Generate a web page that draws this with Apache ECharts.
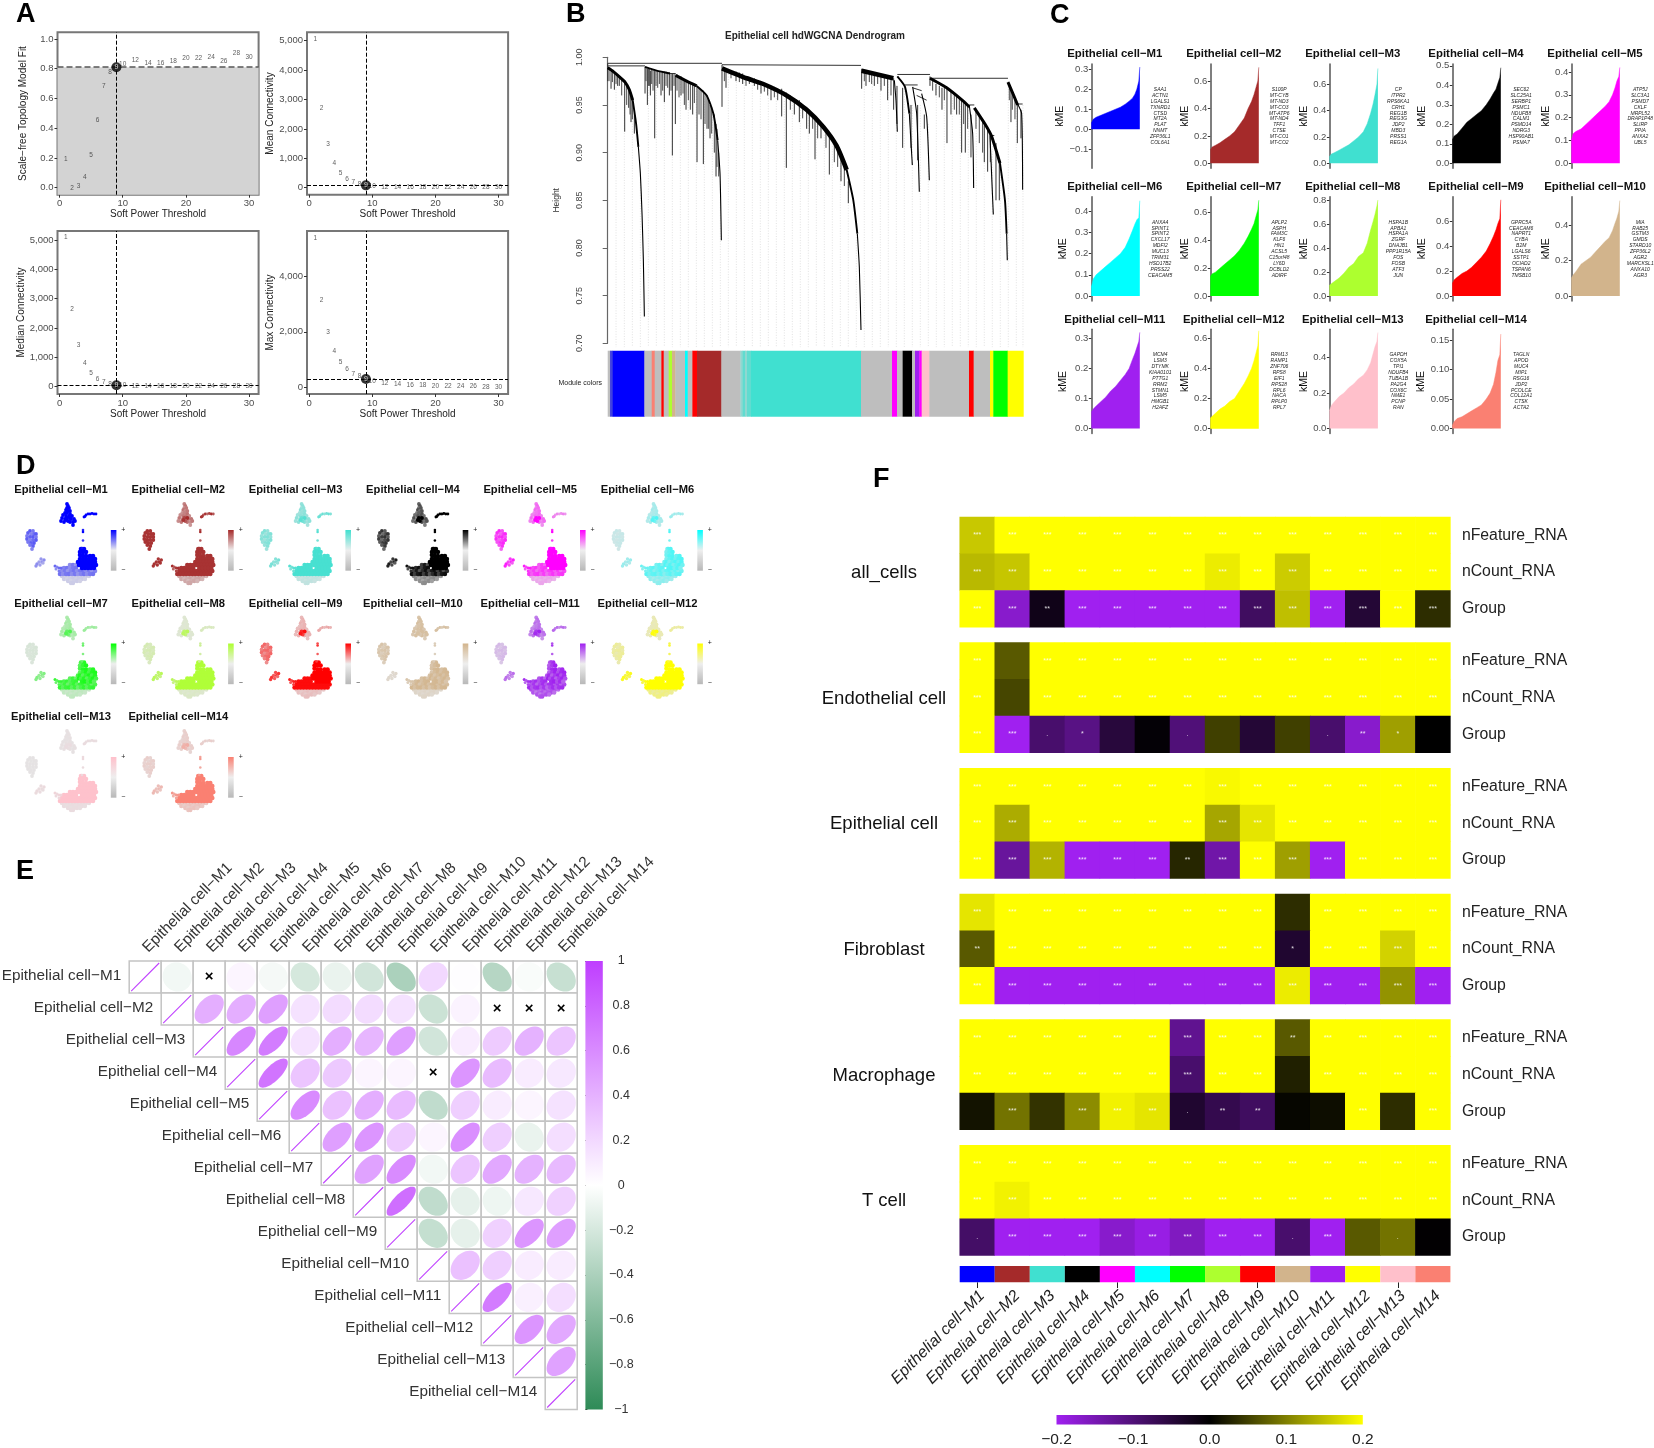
<!DOCTYPE html>
<html><head><meta charset="utf-8">
<style>html,body{margin:0;padding:0;background:#fff}#c{width:1654px;height:1448px}</style>
<script src="https://cdn.jsdelivr.net/npm/echarts@6/dist/echarts.min.js"></script>
</head><body><div id="c"></div>
<script>
// ---------- shared
const moduleNames=['Epithelial cell−M1','Epithelial cell−M2','Epithelial cell−M3','Epithelial cell−M4','Epithelial cell−M5','Epithelial cell−M6','Epithelial cell−M7','Epithelial cell−M8','Epithelial cell−M9','Epithelial cell−M10','Epithelial cell−M11','Epithelial cell−M12','Epithelial cell−M13','Epithelial cell−M14'];
const moduleColors=['#0000FF','#A52A2A','#40E0D0','#000000','#FF00FF','#00FFFF','#00FF00','#ADFF2F','#FF0000','#D2B48C','#A020F0','#FFFF00','#FFC0CB','#FA8072'];
// ---------- A
const powers=[1,2,3,4,5,6,7,8,9,10,12,14,16,18,20,22,24,26,28,30];
const scaleFreeFit=[0.195,0,0.01,0.07,0.22,0.455,0.68,0.775,0.81,0.83,0.855,0.84,0.84,0.85,0.87,0.87,0.88,0.85,0.905,0.875];
const meanConn=[5050,2700,1480,830,490,290,180,120,80,60,25,15,5,5,0,0,0,0,0,0];
const medianConn=[5100,2650,1430,800,450,250,140,80,50,35,0,0,0,0,0,0,0,0,0,0];
const maxConn=[5400,3150,1970,1300,900,660,480,380,290,210,140,100,70,60,40,30,20,20,5,5];
const softPower=9;
const cutFit=0.81, cutMean=80, cutMedian=50, cutMax=290;
// ---------- B
const dendroSpinesBand=[
 [[343,.9885],[417,.978],[467,.972],[537,.960],[597,.945],[647,.927],[687,.907],[717,.882]],
 [[762,.986],[857,.978]]
];
const dendroSpinesThick=[
 [[0,.989],[17,.985],[37,.979],[52,.974],[65,.966],[75,.955]],
 [[204,.981],[237,.975],[267,.970]],
 [[967,.978],[1017,.968],[1067,.954],[1085,.948]],
 [[1100,.947],[1132,.930],[1152,.917],[1177,.889]],
 [[1201,.974],[1217,.961],[1230,.950]]
];
const dendroSpinesMedium=[
 [[75,.955],[85,.931],[92,.906]],
 [[112,.990],[147,.986],[187,.983]],
 [[267,.970],[297,.960],[317,.941],[330,.913]],
 [[717,.882],[737,.850],[749,.815]],
 [[869,.980],[892,.969],[905,.941]],
 [[1177,.889],[1192,.850],[1197,.815]]
];
const dendroSpinesThin=[
 [[92,.906],[98,.878],[103,.836],[107,.787],[110,.728]],
 [[330,.913],[337,.878],[341,.808]],
 [[749,.815],[755,.780],[760,.714]],
 [[860,.976],[865,.955],[869,.922]],
 [[905,.941],[914,.887]],
 [[915,.969],[927,.941],[935,.859]],
 [[942,.962],[957,.938],[965,.871]],
 [[1085,.949],[1095,.920],[1098,.863]],
 [[1147,.918],[1157,.835]],
 [[1197,.815],[1199,.787]],
 [[1230,.951],[1242,.941],[1245,.861]]
];
const dendroMerges=[
 [0,.9937,343,.9937],[0,.991,112,.991],[187,.983,204,.983],[343,.9922,760,.9915],[869,.982,967,.982],[967,.978,1201,.978],[892,.971,930,.971],[915,.968,942,.965],[927,.96,957,.955],[1085,.950,1100,.950],[1230,.951,1245,.951],[1147,.918,1160,.918]
];
const dendroSpikes=[
 [0,.9937,.975],[10,.985,.967],[20,.985,.966],[30,.982,.97],[51,.976,.922],[63,.968,.947],[70,.96,.932],[80,.945,.92],
 [112,.99,.962],[119,.988,.95],[128,.986,.96],[141,.986,.915],[160,.985,.96],[170,.985,.953],[185,.984,.96],[194,.983,.897],[203,.982,.93],[220,.98,.96],[235,.975,.945],[255,.972,.94],[268,.97,.89],[287,.965,.888],[298,.96,.925],[307,.95,.915],[325,.93,.875],
 [343,.9922,.948],[355,.988,.968],[385,.985,.975],[405,.983,.972],[440,.978,.97],[460,.975,.962],[490,.97,.955],[522,.967,.938],[536,.963,.884],[560,.956,.94],[575,.955,.932],[597,.948,.925],[605,.945,.92],[622,.937,.893],[640,.93,.915],[665,.92,.877],[700,.895,.87],[722,.87,.847],
 [762,.988,.967],[775,.985,.97],[800,.982,.97],[820,.98,.965],[840,.98,.955],[858,.978,.945],[868,.97,.93],[885,.968,.905],[910,.95,.905],[930,.95,.892],[950,.94,.925],
 [967,.98,.97],[985,.972,.96],[1003,.968,.945],[1018,.968,.91],[1030,.965,.94],[1047,.96,.94],[1062,.955,.90],[1073,.95,.9],[1090,.94,.895],[1130,.93,.89],[1140,.925,.88],[1165,.91,.85],[1175,.89,.85],
 [1210,.968,.932],[1229,.951,.91],[1240,.945,.915]
];
const dendroHairs=[
 [4,.988,.975],[14,.986,.974],[25,.982,.972],[35,.98,.97],[42,.978,.96],[57,.972,.95],[67,.965,.94],[74,.955,.935],
 [115,.99,.975],[122,.989,.97],[125,.988,.97],[132,.987,.972],[136,.987,.965],[145,.986,.97],[150,.986,.968],[155,.985,.972],[165,.985,.965],[175,.985,.97],[180,.984,.968],[190,.983,.965],[199,.983,.97],[208,.982,.965],[214,.98,.958],[226,.978,.962],[230,.976,.95],[242,.974,.955],[248,.973,.945],[260,.972,.952],[274,.968,.94],[280,.966,.935],[292,.962,.93],[303,.955,.925],[312,.948,.92],[320,.94,.9],[328,.925,.885],[333,.9,.875],
 [350,.988,.975],[370,.986,.978],[395,.984,.974],[415,.98,.97],[425,.979,.972],[450,.976,.966],[470,.973,.964],[480,.971,.96],[500,.969,.958],[510,.967,.955],[548,.96,.945],[585,.95,.936],[615,.94,.925],[630,.934,.915],[655,.924,.905],[680,.91,.89],[690,.905,.885],[710,.888,.865],
 [770,.986,.975],[785,.984,.974],[792,.984,.972],[810,.982,.972],[830,.98,.97],[850,.979,.96],
 [975,.976,.965],[995,.97,.958],[1010,.968,.955],[1040,.962,.945],[1055,.957,.94],[1068,.952,.93],[1080,.948,.925],[1105,.946,.925],[1115,.94,.91],[1125,.935,.9],[1148,.92,.89],
 [1205,.972,.955],[1214,.965,.945],[1222,.958,.935]
];
const dendroGuides=[[25,.98],[50,.975],[74,.955],[98,.88],[122,.985],[146,.985],[170,.985],[194,.983],[218,.98],[242,.975],[266,.97],[290,.962],[314,.943],[338,.87],[362,.988],[386,.985],[410,.982],[434,.979],[458,.976],[482,.971],[506,.968],[530,.965],[554,.958],[578,.953],[602,.945],[626,.936],[650,.927],[674,.915],[698,.9],[722,.875],[746,.825],[770,.986],[794,.983],[818,.981],[842,.98],[866,.97],[890,.97],[914,.95],[938,.95],[962,.93],[986,.975],[1010,.972],[1034,.963],[1058,.957],[1082,.95],[1106,.945],[1130,.933],[1154,.915],[1178,.888],[1202,.975],[1226,.955],[1246,.95]];
const dendroGuideBottom=.696;
const moduleSegments=[[0,7,'#BEBEBE'],[7,15,'#4040E0'],[15,110,'#0000FF'],[110,132,'#BEBEBE'],[132,141,'#FA8072'],[141,161,'#BEBEBE'],[161,168,'#FF0000'],[168,183,'#BEBEBE'],[183,193,'#ADFF2F'],[193,203,'#D2B48C'],[203,232,'#BEBEBE'],[232,240,'#00FFFF'],[240,254,'#BEBEBE'],[254,268,'#FF0000'],[268,341,'#A52A2A'],[341,398,'#BEBEBE'],[398,405,'#8FD8D0'],[405,412,'#60DCD0'],[412,418,'#8FD8D0'],[418,430,'#60DCD0'],[430,760,'#40E0D0'],[760,853,'#BEBEBE'],[853,868,'#FF00FF'],[868,885,'#BEBEBE'],[885,913,'#000000'],[913,922,'#BEBEBE'],[922,935,'#A020F0'],[935,942,'#FF00FF'],[942,965,'#FFC0CB'],[965,1084,'#BEBEBE'],[1084,1098,'#FF0000'],[1098,1147,'#BEBEBE'],[1147,1157,'#FFFF00'],[1157,1200,'#00FF00'],[1200,1247,'#FFFF00']];
// ---------- C
const kmeRanks=[0,.04,.1,.2,.3,.4,.5,.6,.7,.78,.85,.9,.94,.98,1];
const kmeM1=[.03,.05,.06,.07,.08,.09,.1,.11,.125,.14,.155,.175,.2,.24,.31];
const kmeM2=[.1,.12,.13,.15,.175,.2,.23,.28,.33,.4,.45,.5,.55,.6,.7];
const kmeM3=[.05,.07,.08,.1,.12,.14,.17,.2,.24,.3,.38,.45,.52,.6,.72];
const kmeM4=[.12,.14,.15,.18,.21,.23,.25,.27,.3,.33,.36,.38,.41,.44,.49];
const kmeM5=[.1,.13,.14,.15,.17,.19,.21,.23,.25,.27,.3,.33,.36,.38,.42];
const kmeM6=[.04,.08,.1,.12,.14,.16,.18,.2,.23,.27,.31,.34,.36,.37,.45];
const kmeM7=[.14,.16,.17,.2,.23,.26,.29,.33,.38,.43,.48,.52,.57,.62,.69];
const kmeM8=[.09,.1,.12,.15,.19,.24,.27,.33,.36,.44,.55,.62,.68,.75,.8];
const kmeM9=[.1,.13,.15,.18,.2,.23,.27,.31,.36,.42,.48,.53,.58,.62,.77];
const kmeM10=[.1,.12,.14,.18,.2,.22,.25,.28,.31,.33,.37,.41,.44,.48,.54];
const kmeM11=[.055,.065,.075,.09,.105,.125,.14,.16,.18,.2,.23,.25,.27,.29,.32];
const kmeM12=[.07,.08,.1,.13,.15,.18,.2,.25,.3,.35,.4,.45,.5,.55,.65];
const kmeM13=[.1,.13,.15,.18,.2,.23,.25,.28,.3,.33,.37,.42,.46,.49,.54];
const kmeM14=[.005,.012,.017,.02,.025,.03,.035,.04,.05,.06,.075,.095,.115,.125,.16];
const kmeAll=[kmeM1,kmeM2,kmeM3,kmeM4,kmeM5,kmeM6,kmeM7,kmeM8,kmeM9,kmeM10,kmeM11,kmeM12,kmeM13,kmeM14];
const kmeTicks=[[-.1,0,.1,.2,.3],[0,.2,.4,.6],[0,.2,.4,.6],[0,.1,.2,.3,.4,.5],[0,.1,.2,.3,.4],[0,.1,.2,.3,.4],[0,.2,.4,.6],[0,.2,.4,.6,.8],[0,.2,.4,.6],[0,.2,.4],[0,.1,.2,.3],[0,.2,.4,.6],[0,.2,.4],[0,.05,.1,.15]];
const kmeRange=[[-.194,.325],[-.036,.724],[-.038,.754],[-.0256,.509],[-.022,.435],[-.0236,.469],[-.036,.715],[-.042,.828],[-.04,.795],[-.028,.562],[-.0167,.33],[-.033,.66],[-.028,.558],[-.0085,.168]];
const geneLists=[
['SAA1','ACTN1','LGALS1','TXNRD1','CTSD','MT2A','PLAT','NNMT','ZFP36L1','COL6A1'],
['S100P','MT-CYB','MT-ND3','MT-CO3','MT-ATP6','MT-ND4','TFF1','CTSE','MT-CO1','MT-CO2'],
['CP','ITPR2','RPS6KA1','CRH1','REG1B','REG3G','JDP2','MBD3','PRSS1','REG1A'],
['SEC62','SLC25A1','SERBP1','PSMC1','NDUFB8','CALM1','PSMD14','NDRG3','HSP90AB1','PSMA7'],
['ATP5J','SLC3A1','PSMD7','CKLF','MRPL52','DRAP1P48','SLIRP','PPIA','ANXA2','UBL5'],
['ANXA4','SPINT1','SPINT2','CXCL17','MDFI2','MUC13','TRIM31','HSD17B2','PRSS22','CEACAM5'],
['APLP2','ASPH','FAM3C','KLF6','HN1','ACSL5','C15orf48','LY6D','DCBLD2','ADIRF'],
['HSPA1B','APBA1','HSPA1A','ZGRF','DNAJB1','PPP1R15A','FOS','FOSB','ATF3','JUN'],
['GPRC5A','CEACAM6','NAPRT1','CYBA','B2M','LGALS6','SSTP1','OCIAD2','TSPAN6','TMSB10'],
['MIA','RAB25','GSTM3','GMDS','STARD10','ZFP36L2','AGR2','MARCKSL1','ANXA10','AGR3'],
['MCM4','LSM3','DTYMK','KIAA0101','PTTG1','RRM2','STMN1','LSM5','HMGB1','H2AFZ'],
['RRM13','RAMP1','ZNF706','RPS8','EIF1','RPS28','RPL6','NACA','RPLP0','RPL7'],
['GAPDH','COX5A','TPI1','NDUFB4','TUBA1B','PA2G4','COX6C','NME1','PCNP','RAN'],
['TAGLN','APOD','MUC4','MIP1','RSG16','JDP2','PCOLCE','COL12A1','CTSK','ACTA2']];
// ---------- D  (cell positions read from the embedding, grouped by region)
const umapTop=[[67,64],[68,66],[67,68],[69,68],[66,70],[68,71],[70,71],[65,73],[67,73],[70,74],[63,75],[66,76],[69,76],[72,76],[62,78],[65,79],[71,79],[74,79],[61,81],[64,82],[70,82],[73,82],[75,81],[73,85]];
const umapCore=[[67,78],[70,78],[68,81],[66,80]];
const umapRight=[[84,77],[86,75],[88,74],[90,74],[92,73.5],[94,74],[96,74],[85,76.5]];
const umapLeft=[[30,91],[33,91],[28,93],[31,94],[34,94],[36,94],[27,96],[30,97],[33,97],[36,97],[27,99],[30,100],[33,100],[36,100],[28,102],[31,103],[34,103],[30,105],[33,106],[32,109]];
const umapSmall=[[41,119],[44,120],[39,122],[42,122],[37,124],[40,125],[36,126],[43,123]];
const umapDots=[[83,90],[83,92],[83,100.5],[82,108]];
const umapArm=[[55,126],[57,127],[59,128],[56,129],[59,131],[61,128]];
const umapLow=[[62,136],[65,136],[68,136],[71,136],[74,136],[77,136],[80,136],[83,136],[86,136],[89,136],[64,139],[67,139],[70,139],[73,139],[76,139],[79,139],[82,139],[85,139],[68,141],[71,141],[74,141],[77,141],[80,141],[71,143],[73,143]];
const umapMid=[[70,125],[73,125],[76,125],[64,128],[67,128],[70,128],[73,128],[76,128],[62,131],[65,131],[68,131],[71,131],[74,131],[77,131],[80,131],[83,131],[86,131],[89,131],[92,131],[95,131],[60,134],[63,134],[66,134],[69,134],[72,134],[75,134],[78,134],[81,134],[84,134],[87,134],[90,134],[93,134]];
const umapHigh=[[81,109],[84,109],[80,112],[83,112],[86,112],[80,115],[83,116],[86,116],[90,116],[93,116],[80,119],[83,119],[86,119],[89,119],[92,119],[95,119],[78,122],[80,122],[83,122],[86,122],[89,122],[92,122],[95,122],[79,125],[81,125],[84,125],[87,125],[90,125],[93,125],[96,125],[82,128],[85,128],[88,128],[91,128],[94,128]];
const umapRegions=[umapLow,umapMid,umapHigh,umapTop,umapCore,umapRight,umapLeft,umapSmall,umapDots,umapArm];
const umapSizes=[4.4,4.6,4.6,3.8,4,2.8,3.8,3.4,2.6,3];
// intensity per region [low, mid, high, top, core, right, left, small, dots, arm]
const umapM1=[.1,.45,1,1,1,1,.55,.35,.9,.5];
const umapM2=[.3,.95,.95,.55,.9,.9,.95,.95,.9,.9];
const umapM3=[.2,.95,.95,.5,.8,.7,.55,.6,.8,.8];
const umapM4=[.35,.85,1,.6,1,1,.7,.8,1,.85];
const umapM5=[.25,.7,1,.5,1,.4,.75,.8,.9,.8];
const umapM6=[.35,.55,.6,.25,.6,.3,.12,.3,.6,.5];
const umapM7=[.15,.7,.8,.25,.6,.3,.05,.4,.5,.7];
const umapM8=[.15,.95,.95,.1,.7,.2,.25,.7,.4,.7];
const umapM9=[.15,.95,1,.2,.85,.25,.5,.7,.7,.8];
const umapM10=[.3,.85,.85,.7,.7,.7,.6,.25,.5,.6];
const umapM11=[.7,.85,.9,.55,.9,.6,.2,.55,.8,.85];
const umapM12=[.4,1,1,.2,.9,.3,.3,.8,.7,.9];
const umapM13=[.2,.95,.95,.1,.2,.2,.05,.25,.3,.4];
const umapM14=[.3,1,1,.2,.5,.2,.2,.4,.7,.7];
const umapAll=[umapM1,umapM2,umapM3,umapM4,umapM5,umapM6,umapM7,umapM8,umapM9,umapM10,umapM11,umapM12,umapM13,umapM14];
const umapPatch=[1.1,.85,1.05,.75,.95,1.1,.85,1.05];
// ---------- E  (upper triangle; null = crossed out)
const corrM1=[-.06,null,.05,-.05,-.2,-.1,-.22,-.4,.2,.01,-.35,-.03,-.27];
const corrM2=[.42,.42,.5,.15,.18,.18,.15,-.25,.06,null,null,null];
const corrM3=[.62,.68,.15,.42,.38,.5,-.22,.1,.27,.4,.3];
const corrM4=[.72,.3,.28,.05,.05,null,.55,.35,.1,.12];
const corrM5=[.6,.32,.42,.35,-.3,.25,.1,.05,.15];
const corrM6=[.5,.55,.27,.05,.58,.25,-.1,.17];
const corrM7=[.48,.6,-.06,.3,.45,.4,.36];
const corrM8=[.75,-.3,-.12,-.08,.12,.24];
const corrM9=[-.28,-.12,.24,.55,.5];
const corrM10=[.32,.25,.1,.1];
const corrM11=[.68,.08,.17];
const corrM12=[.55,.45];
const corrM13=[.48];
const corrRows=[corrM1,corrM2,corrM3,corrM4,corrM5,corrM6,corrM7,corrM8,corrM9,corrM10,corrM11,corrM12,corrM13,[]];
const corrTicks=[-1,-.8,-.6,-.4,-.2,0,.2,.4,.6,.8,1];
// ---------- F
const traitNames=['nFeature_RNA','nCount_RNA','Group'];
const heatGroups=['all_cells','Endothelial cell','Epithelial cell','Fibroblast','Macrophage','T cell'];
const S3='***',S2='**',S1='*',SD='.',S0='';
const heatAllCells=[[.157,.2,.2,.2,.2,.2,.2,.2,.2,.2,.2,.2,.2,.2],[.145,.155,.2,.2,.2,.2,.2,.185,.2,.16,.2,.2,.2,.2],[.2,-.17,-.02,-.2,-.2,-.2,-.2,-.2,-.08,.15,-.2,-.045,.2,.035]];
const starAllCells=[[S3,S3,S3,S3,S3,S3,S3,S3,S3,S3,S3,S3,S3,S3],[S3,S3,S3,S3,S3,S3,S3,S3,S3,S3,S3,S3,S3,S3],[S3,S3,S2,S3,S3,S3,S3,S3,S3,S3,S3,S3,S3,S3]];
const heatEndothelial=[[.2,.07,.2,.2,.2,.2,.2,.2,.2,.2,.2,.2,.2,.2],[.2,.055,.2,.2,.2,.2,.2,.2,.2,.2,.2,.2,.2,.2],[.2,-.2,-.09,-.11,-.05,-.005,-.1,.05,-.045,.05,-.09,-.17,.125,0]];
const starEndothelial=[[S3,S0,S3,S3,S3,S3,S3,S3,S3,S3,S3,S3,S3,S3],[S3,S0,S3,S3,S3,S3,S3,S3,S3,S3,S3,S3,S3,S3],[S3,S3,SD,S1,S0,S0,SD,S0,S0,S0,SD,S2,S1,S0]];
const heatEpithelial=[[.2,.2,.2,.2,.2,.2,.2,.195,.2,.2,.2,.2,.2,.2],[.2,.135,.2,.2,.2,.2,.2,.13,.18,.2,.2,.2,.2,.2],[.2,-.13,.14,-.2,-.2,-.2,.03,-.14,.2,.125,-.2,.2,.2,.2]];
const starEpithelial=[[S3,S3,S3,S3,S3,S3,S3,S3,S3,S3,S3,S3,S3,S3],[S3,S3,S3,S3,S3,S3,S3,S3,S3,S3,S3,S3,S3,S3],[S3,S3,S3,S3,S3,S3,S2,S3,S3,S3,S3,S3,S3,S3]];
const heatFibroblast=[[.18,.2,.2,.2,.2,.2,.2,.2,.2,.035,.2,.2,.2,.2],[.07,.2,.2,.2,.2,.2,.2,.2,.2,-.04,.2,.2,.165,.2],[.2,-.2,-.2,-.2,-.2,-.2,-.2,-.2,-.2,.185,-.2,-.2,.115,-.2]];
const starFibroblast=[[S3,S3,S3,S3,S3,S3,S3,S3,S3,S0,S3,S3,S3,S3],[S2,S3,S3,S3,S3,S3,S3,S3,S3,S1,S3,S3,S3,S3],[S3,S3,S3,S3,S3,S3,S3,S3,S3,S3,S3,S3,S3,S3]];
const heatMacrophage=[[.2,.2,.2,.2,.2,.2,-.12,.2,.2,.07,.2,.2,.2,.2],[.2,.2,.2,.2,.2,.2,-.09,.2,.2,.025,.2,.2,.2,.2],[.015,.09,.04,.11,.19,.18,-.04,-.065,-.08,.005,.01,.2,.035,.2]];
const starMacrophage=[[S3,S3,S3,S3,S3,S3,S3,S3,S3,S2,S3,S3,S3,S3],[S3,S3,S3,S3,S3,S3,S3,S3,S3,S0,S3,S3,S3,S3],[S0,S3,S0,S3,S3,S3,SD,S2,S2,S0,S0,S3,S0,S3]];
const heatTCell=[[.2,.2,.2,.2,.2,.2,.2,.2,.2,.2,.2,.2,.2,.2],[.2,.19,.2,.2,.2,.2,.2,.2,.2,.2,.2,.2,.2,.2],[-.085,-.2,-.2,-.2,-.17,-.19,-.16,-.2,-.2,-.09,-.2,.07,.09,-.002]];
const starTCell=[[S3,S3,S3,S3,S3,S3,S3,S3,S3,S3,S3,S3,S3,S3],[S3,S3,S3,S3,S3,S3,S3,S3,S3,S3,S3,S3,S3,S3],[SD,S3,S3,S3,S3,S3,S3,S3,S3,SD,S3,S0,SD,S0]];
const heatValues=[heatAllCells,heatEndothelial,heatEpithelial,heatFibroblast,heatMacrophage,heatTCell];
const heatStars=[starAllCells,starEndothelial,starEpithelial,starFibroblast,starMacrophage,starTCell];
const heatColorTicks=[-.2,-.1,0,.1,.2];

// ---------- builders
const FF='"Liberation Sans",Arial,sans-serif';
const grids=[],xAxes=[],yAxes=[],series=[],graphics=[];
function addGrid(r,x,y,extra){const i=grids.length;grids.push(Object.assign({left:r[0],top:r[1],width:r[2],height:r[3]},extra||{}));xAxes.push(Object.assign({gridIndex:i},x));yAxes.push(Object.assign({gridIndex:i},y));return i;}
function text(t,x,y,font,fill,align,rot){graphics.push({type:'text',x,y,rotation:rot||0,silent:true,style:{text:t,font:font+' '+FF,fill:fill||'#000',textAlign:align||'center',textVerticalAlign:'middle'}});}
const hidden={show:false};
function hexToRgb(h){return [parseInt(h.slice(1,3),16),parseInt(h.slice(3,5),16),parseInt(h.slice(5,7),16)];}
function mix(a,b,t){const A=hexToRgb(a),B=hexToRgb(b);return 'rgb('+A.map((v,i)=>Math.round(v+(B[i]-v)*t)).join(',')+')';}
const minus=s=>String(s).replace('-','−');

// ---------- panel letters
[['A',16,15],['B',566,15],['C',1050,16],['D',16,467],['E',16,872],['F',873,480]].forEach(l=>text(l[0],l[1],l[2],'bold 27px','#000','left'));

// ---------- A
const thresholdAxisX=()=>({type:'value',min:-.32,max:31.5,name:'Soft Power Threshold',nameLocation:'middle',nameGap:14.5,nameTextStyle:{fontSize:10,color:'#222',fontFamily:FF},axisLine:{show:false,onZero:false},splitLine:hidden,axisTick:{show:true,length:3,lineStyle:{color:'#333'},customValues:[0,10,20,30]},axisLabel:{fontSize:9.5,color:'#4d4d4d',margin:4,fontFamily:FF,customValues:[0,10,20,30]}});
function panelA(rect,yName,yMin,yMax,ticks,fmt,vals,cut,shade,cutColor){
 const g=addGrid(rect,thresholdAxisX(),{type:'value',min:yMin,max:yMax,name:yName,nameLocation:'middle',nameGap:29.5,nameTextStyle:{fontSize:10,color:'#222',fontFamily:FF},axisLine:{show:false,onZero:false},splitLine:hidden,axisTick:{show:true,length:3,lineStyle:{color:'#333'},customValues:ticks},axisLabel:{fontSize:9.5,color:'#4d4d4d',margin:4,fontFamily:FF,customValues:ticks,formatter:fmt}},{show:true,borderColor:'#777777',borderWidth:2,backgroundColor:'#fff'});
 const pts=powers.map((p,i)=>[p,vals[i],p]).filter(d=>d[2]!==softPower);
 series.push({type:'scatter',xAxisIndex:g,yAxisIndex:g,silent:true,symbolSize:1,itemStyle:{color:'rgba(0,0,0,0)'},data:pts,z:4,
   label:{show:true,position:'inside',fontSize:6.5,color:'#333',fontFamily:FF,formatter:p=>p.data[2]},
   markLine:{silent:true,symbol:'none',label:hidden,animation:false,lineStyle:{color:'#000',type:'dashed',width:1},data:[{xAxis:softPower},{yAxis:cut,lineStyle:{color:cutColor||'#000',type:'dashed',width:cutColor?1.5:1}}]},
   markArea:shade?{silent:true,itemStyle:{color:'#D3D3D3'},data:[[{xAxis:-.32,yAxis:yMin},{xAxis:31.5,yAxis:cut}]]}:undefined});
 const idx=powers.indexOf(softPower);
 series.push({type:'scatter',xAxisIndex:g,yAxisIndex:g,silent:true,symbolSize:10,itemStyle:{color:'#000'},z:5,data:[[softPower,vals[idx]]],label:{show:true,position:'inside',fontSize:7,color:'#fff',fontFamily:FF,formatter:String(softPower)}});
}
const fmt1=v=>v.toFixed(1);
const fmtK=v=>v.toLocaleString('en-US');
panelA([57.5,32.3,201.1,162.4],'Scale−free Topology Model Fit',-.047,1.045,[0,.2,.4,.6,.8,1],fmt1,scaleFreeFit,cutFit,true,'#555');
panelA([307,32.3,201.1,162.4],'Mean Connectivity',-238,5286,[0,1000,2000,3000,4000,5000],fmtK,meanConn,cutMean);
panelA([57.5,231,201.1,163],'Median Connectivity',-249,5307,[0,1000,2000,3000,4000,5000],fmtK,medianConn,cutMedian);
panelA([307,231,201.1,163],'Max Connectivity',-254,5657,[0,2000,4000],fmtK,maxConn,cutMax);

// ---------- B
text('Epithelial cell hdWGCNA Dendrogram',815,36.7,'bold 10px','#222');
text('Module colors',602,383,'7px','#222','right');
const gB=addGrid([607.7,57.3,415.6,286],{type:'value',min:0,max:1247,show:false},{type:'value',min:.7,max:1,interval:.05,offset:16,name:'Height',nameLocation:'middle',nameGap:31,nameTextStyle:{fontSize:8.5,color:'#333',fontFamily:FF},axisLine:{show:true,lineStyle:{color:'#666',width:1.2}},axisTick:{show:true,length:5,lineStyle:{color:'#666'}},splitLine:hidden,axisLabel:{rotate:90,fontSize:9,color:'#444',margin:8,fontFamily:FF,formatter:v=>v.toFixed(2)}});
series.push({type:'custom',xAxisIndex:gB,yAxisIndex:gB,silent:true,clip:false,z:1,data:dendroGuides,encode:{x:0,y:1},
 renderItem:(p,api)=>{const a=api.coord([api.value(0),api.value(1)]),b=api.coord([api.value(0),dendroGuideBottom]);return{type:'line',shape:{x1:a[0],y1:a[1],x2:b[0],y2:b[1]},style:{stroke:'#cfcfcf',lineWidth:.6,lineDash:[1,1.6]}};}});
const spikeRender=col=>(p,api)=>{const a=api.coord([api.value(0),api.value(1)]),b=api.coord([api.value(0),api.value(2)]);return{type:'line',shape:{x1:a[0],y1:a[1],x2:b[0],y2:b[1]},style:{stroke:col,lineWidth:1}};};
series.push({type:'custom',xAxisIndex:gB,yAxisIndex:gB,silent:true,clip:false,z:2,data:dendroHairs,encode:{x:0,y:1},renderItem:spikeRender('#4a4a4a')});
series.push({type:'custom',xAxisIndex:gB,yAxisIndex:gB,silent:true,clip:false,z:2,data:dendroSpikes,encode:{x:0,y:1},renderItem:spikeRender('#333')});
series.push({type:'custom',xAxisIndex:gB,yAxisIndex:gB,silent:true,clip:false,z:2,data:dendroMerges,encode:{x:[0,2],y:[1,3]},
 renderItem:(p,api)=>{const a=api.coord([api.value(0),api.value(1)]),b=api.coord([api.value(2),api.value(3)]);return{type:'line',shape:{x1:a[0],y1:a[1],x2:b[0],y2:b[1]},style:{stroke:'#333',lineWidth:1}};}});
[[dendroSpinesBand,4.6],[dendroSpinesThick,3],[dendroSpinesMedium,1.9],[dendroSpinesThin,1.1]].forEach(gr=>gr[0].forEach(d=>series.push({type:'line',xAxisIndex:gB,yAxisIndex:gB,silent:true,clip:false,showSymbol:false,smooth:.2,z:3,data:d,lineStyle:{color:'#000',width:gr[1]}})));
const gB2=addGrid([607.7,350.7,415.6,66],{type:'value',min:0,max:1247,show:false},{type:'value',min:0,max:1,show:false});
series.push({type:'custom',xAxisIndex:gB2,yAxisIndex:gB2,silent:true,data:moduleSegments.map(s=>[s[0],s[1]]),encode:{x:[0,1]},
 renderItem:(p,api)=>{const a=api.coord([api.value(0),1]),b=api.coord([api.value(1),0]);return{type:'rect',shape:{x:a[0],y:a[1],width:b[0]-a[0]+.4,height:b[1]-a[1]},style:{fill:moduleSegments[p.dataIndex][2]}};}});

// ---------- C
const cAxisX=[1091.3,1210.3,1329.4,1452.3,1571.3];
const cTitleX=[1114.8,1233.8,1352.8,1476,1595];
const cRowTop=[64,196.7,329.3];
const cKmeGap=[23,20,20,24.5,20];
const cTitleY=[54,186.8,319.5];
const cGeneY=[89.7,222.3,355];
moduleNames.forEach((name,i)=>{
 const col=i%5,row=Math.floor(i/5);
 text(name,cTitleX[col],cTitleY[row],'bold 11.4px','#111');
 geneLists[i].forEach((g,k)=>text(g,cAxisX[col]+68.9,cGeneY[row]+k*5.87,'italic 5px','#222'));
 const t=kmeTicks[i],dec=(i===13)?2:1;
 const gi=addGrid([cAxisX[col],cRowTop[row],48.5,104.3],{type:'value',min:0,max:1,show:false},{type:'value',min:kmeRange[i][0],max:kmeRange[i][1],name:'kME',nameLocation:'middle',nameGap:cKmeGap[col],nameTextStyle:{fontSize:10.5,color:'#111',fontFamily:FF},axisLine:{show:true,onZero:false,lineStyle:{color:'#555',width:1.5}},axisTick:{show:true,length:2.5,lineStyle:{color:'#333'},customValues:t},splitLine:hidden,axisLabel:{fontSize:9.5,color:'#4d4d4d',margin:3,fontFamily:FF,customValues:t,formatter:v=>minus(v.toFixed(dec))}});
 series.push({type:'line',xAxisIndex:gi,yAxisIndex:gi,silent:true,showSymbol:false,z:3,data:kmeRanks.map((r,k)=>[r,kmeAll[i][k]]),lineStyle:{width:.5,color:moduleColors[i]},areaStyle:{color:moduleColors[i],opacity:1,origin:0}});
});

// ---------- D
const umapData=[];umapRegions.forEach((pts,r)=>pts.forEach(p=>umapData.push([p[0],p[1],r])));
moduleNames.forEach((name,i)=>{
 const col=i%6,row=Math.floor(i/6),dx=117.3*col,dy=113.5*row;
 text(name,61+dx,490.3+dy,'bold 11.2px','#111');
 const gi=addGrid([20+dx,500+dy,80,90],{type:'value',min:20,max:100,show:false},{type:'value',min:60,max:150,inverse:true,show:false});
 series.push({type:'scatter',xAxisIndex:gi,yAxisIndex:gi,silent:true,symbolSize:v=>umapSizes[v[2]],z:3,data:umapData,itemStyle:{opacity:1,color:p=>{const v=umapAll[i][p.data[2]];const eff=v>=.95?v:Math.min(1,v*umapPatch[p.dataIndex%8]);return mix('#e4e4e4',moduleColors[i],eff);}}});
 graphics.push({type:'rect',silent:true,shape:{x:110.8+dx,y:530+dy,width:5.6,height:40.7},style:{fill:new echarts.graphic.LinearGradient(0,1,0,0,[{offset:0,color:'#b8b8b8'},{offset:.5,color:'#eeeeee'},{offset:1,color:moduleColors[i]}])}});
 text('+',123.4+dx,530+dy,'7px','#222');
 text('−',123.4+dx,570+dy,'7px','#222');
});

// ---------- E
function corrColor(r){return r>=0?mix('#FFFFFF','#BF3EFF',r):mix('#FFFFFF','#2E8B57',-r);}
const corrCells=[];
corrRows.forEach((row,i)=>{corrCells.push([i,i,1,1]);row.forEach((v,k)=>corrCells.push([i+1+k,i,v===null?0:v,v===null?2:0]));});
const gE=addGrid([129.2,961,448,448.5],{type:'category',data:moduleNames,show:false},{type:'category',inverse:true,data:moduleNames,show:false});
series.push({type:'custom',xAxisIndex:gE,yAxisIndex:gE,silent:true,clip:false,data:corrCells,encode:{x:0,y:1},
 renderItem:(p,api)=>{
  const c=api.coord([api.value(0),api.value(1)]),sz=api.size([1,1]),w=sz[0],h=sz[1],kind=api.value(3),r=api.value(2);
  const ch=[{type:'rect',shape:{x:c[0]-w/2,y:c[1]-h/2,width:w,height:h},style:{fill:'#fff',stroke:'#c4c4c4',lineWidth:1.5}}];
  if(kind===1){ch.push({type:'line',shape:{x1:c[0]-w/2+2,y1:c[1]+h/2-2,x2:c[0]+w/2-2,y2:c[1]-h/2+2},style:{stroke:'#BF3EFF',lineWidth:1.1}});}
  else if(kind===2){ch.push({type:'text',style:{x:c[0],y:c[1],text:'×',font:'bold 15px '+FF,fill:'#000',textAlign:'center',textVerticalAlign:'middle'}});}
  else{const d=Math.acos(r),a=14.6,pts=[];for(let k=0;k<48;k++){const t=k/48*Math.PI*2;pts.push([c[0]+a*Math.cos(t+d/2),c[1]-a*Math.cos(t-d/2)]);}
   ch.push({type:'polygon',shape:{points:pts},style:{fill:corrColor(r)}});}
  return{type:'group',children:ch};}});
series.push({type:'custom',xAxisIndex:gE,yAxisIndex:gE,silent:true,clip:false,data:moduleNames.map((n,i)=>[i,i]),encode:{x:0,y:1},
 renderItem:(p,api)=>{const c=api.coord([api.value(0),api.value(1)]),w=api.size([1,1])[0];return{type:'text',style:{x:c[0]-w/2-8,y:c[1]-1.5,text:moduleNames[p.dataIndex],font:'15.3px '+FF,fill:'#333',textAlign:'right',textVerticalAlign:'middle'}};}});
series.push({type:'custom',xAxisIndex:gE,yAxisIndex:gE,silent:true,clip:false,data:moduleNames.map((n,i)=>[i,0]),encode:{x:0,y:1},
 renderItem:(p,api)=>{const c=api.coord([api.value(0),0]),h=api.size([1,1])[1];return{type:'text',x:c[0],y:c[1]-h/2-11,rotation:Math.PI/4,style:{text:moduleNames[p.dataIndex],font:'15.3px '+FF,fill:'#333',textAlign:'left',textVerticalAlign:'middle'}};}});
const gEb=addGrid([585.4,961,17.4,448.5],{type:'value',min:0,max:1,show:false},{type:'value',position:'right',min:-1,max:1,axisLine:hidden,splitLine:hidden,axisTick:{show:true,length:2,lineStyle:{color:'#333'},customValues:corrTicks},axisLabel:{fontSize:12.5,color:'#333',margin:18.5,align:'center',fontFamily:FF,customValues:corrTicks,formatter:v=>minus(Math.abs(v)<1e-9?0:+v.toFixed(1))}});
series.push({type:'custom',xAxisIndex:gEb,yAxisIndex:gEb,silent:true,data:[[0,1,-1,1]],encode:{x:[0,1],y:[2,3]},
 renderItem:(p,api)=>{const a=api.coord([0,1]),b=api.coord([1,-1]);return{type:'rect',shape:{x:a[0],y:a[1],width:b[0]-a[0],height:b[1]-a[1]},style:{fill:new echarts.graphic.LinearGradient(0,1,0,0,[{offset:0,color:'#2E8B57'},{offset:.5,color:'#FFFFFF'},{offset:1,color:'#BF3EFF'}])}};}});

// ---------- F
const heatTop=[517,642.6,768.3,893.9,1019.6,1145.2];
const heatSeriesIdx=[];
heatGroups.forEach((gName,i)=>{
 text(gName,884,heatTop[i]+56,'18.5px','#111');
 const gi=addGrid([959.7,heatTop[i],490.7,110.2],{type:'category',data:moduleNames,show:false},{type:'category',inverse:true,position:'right',data:traitNames,axisLine:hidden,axisTick:hidden,splitLine:hidden,axisLabel:{fontSize:15.8,color:'#222',margin:11.5,fontFamily:FF}});
 const d=[];heatValues[i].forEach((row,y)=>row.forEach((v,x)=>d.push([x,y,v,heatStars[i][y][x]])));
 heatSeriesIdx.push(series.length);
 series.push({type:'heatmap',xAxisIndex:gi,yAxisIndex:gi,silent:true,data:d,itemStyle:{borderWidth:0},label:{show:true,color:'rgba(255,255,255,.85)',fontSize:7,fontFamily:FF,formatter:p=>p.data[3]}});
});
const gStrip=addGrid([959.7,1266,490.7,16.3],{type:'category',data:moduleNames,axisLine:hidden,axisTick:{show:true,alignWithLabel:true,length:5.7,lineStyle:{color:'#222'}},axisLabel:hidden},{type:'value',min:0,max:1,show:false});
series.push({type:'bar',xAxisIndex:gStrip,yAxisIndex:gStrip,silent:true,barWidth:'100%',data:moduleColors.map(c=>({value:1,itemStyle:{color:c}}))});
series.push({type:'custom',xAxisIndex:gStrip,yAxisIndex:gStrip,silent:true,clip:false,data:moduleNames.map((n,i)=>[i,0]),encode:{x:0,y:1},
 renderItem:(p,api)=>{const c=api.coord([api.value(0),0]);return{type:'text',x:c[0]+5,y:c[1]+11,rotation:Math.PI/4,style:{text:moduleNames[p.dataIndex],font:'italic 16px '+FF,fill:'#222',textAlign:'right',textVerticalAlign:'middle'}};}});
const gFb=addGrid([1056.5,1415,306.3,10],{type:'value',min:-.2,max:.2,axisLine:hidden,axisTick:hidden,splitLine:hidden,axisLabel:{fontSize:15.5,color:'#222',margin:7.5,fontFamily:FF,customValues:heatColorTicks,formatter:v=>minus(v.toFixed(1))}},{type:'value',min:0,max:1,show:false});
series.push({type:'custom',xAxisIndex:gFb,yAxisIndex:gFb,silent:true,data:[[-.2,.2,0,1]],encode:{x:[0,1],y:[2,3]},
 renderItem:(p,api)=>{const a=api.coord([-.2,1]),b=api.coord([.2,0]);return{type:'rect',shape:{x:a[0],y:a[1],width:b[0]-a[0],height:b[1]-a[1]},style:{fill:new echarts.graphic.LinearGradient(0,0,1,0,[{offset:0,color:'#A020F0'},{offset:.5,color:'#000000'},{offset:1,color:'#FFFF00'}])}};}});

const chart=echarts.init(document.getElementById('c'),null,{renderer:'canvas',width:1654,height:1448});
chart.setOption({animation:false,backgroundColor:'#fff',textStyle:{fontFamily:FF},grid:grids,xAxis:xAxes,yAxis:yAxes,series,graphic:graphics,
 visualMap:{type:'continuous',show:false,min:-.2,max:.2,dimension:2,seriesIndex:heatSeriesIdx,inRange:{color:['#A020F0','#000000','#FFFF00']}}});
</script></body></html>
